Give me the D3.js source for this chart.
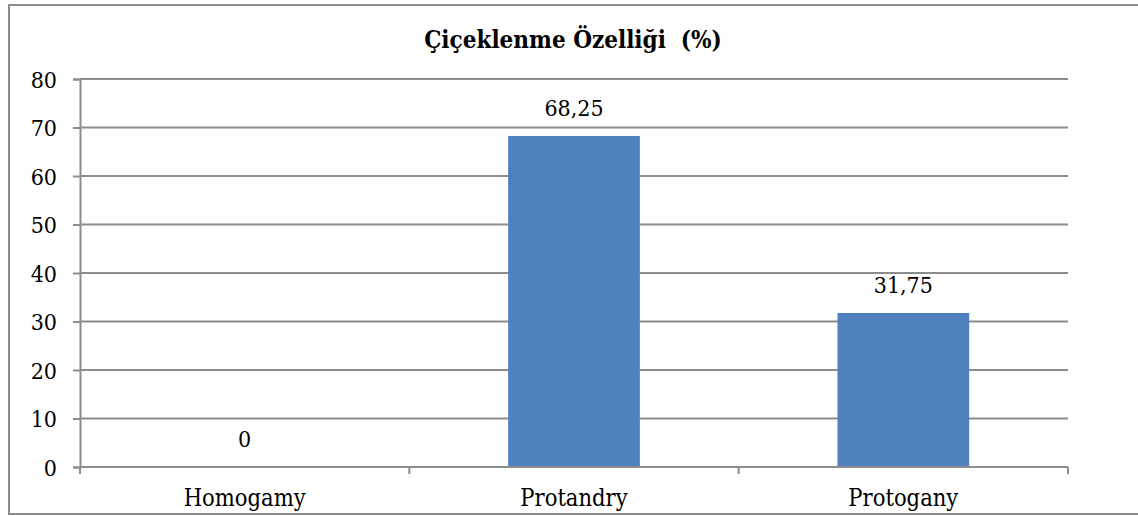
<!DOCTYPE html>
<html>
<head>
<meta charset="utf-8">
<script src="https://cdn.jsdelivr.net/npm/d3@7"></script>
<style>
  body { margin: 0; background: #fff; }
  svg text { fill: #000; }
</style>
</head>
<body>
<script>
const categories = ["Homogamy", "Protandry", "Protogany"];
const values = [0, 68.25, 31.75];
const valueLabels = ["0", "68,25", "31,75"];
const yTicks = [0, 10, 20, 30, 40, 50, 60, 70, 80];
const title = "Çiçeklenme Özelliği  (%)";

const w = 1138;
const h = 516;
const padLeft = 80, padRight = 1068, padTop = 79, padBottom = 467;
const font = "'DejaVu Serif Condensed', 'DejaVu Serif', serif";

const svg = d3.select("body")
      .append("svg")
      .attr("width", w)
      .attr("height", h);

// frame, open on the right like the reference
svg.append("path")
      .attr("d", "M1138,5 H9 V514 H1138")
      .attr("fill", "none")
      .attr("stroke", "#8c8c8c")
      .attr("stroke-width", 2);

const xScale = d3.scaleBand()
      .domain(categories)
      .range([padLeft, padRight])
      .paddingInner(0.6)
      .paddingOuter(0.3);

const yScale = d3.scaleLinear()
      .domain([0, 80])
      .range([padBottom, padTop]);

// gridlines
svg.append("g")
      .selectAll("line")
      .data(yTicks.filter(d => d > 0))
      .enter()
      .append("line")
      .attr("x1", padLeft)
      .attr("x2", padRight)
      .attr("y1", d => yScale(d))
      .attr("y2", d => yScale(d))
      .attr("stroke", "#8c8c8c")
      .attr("stroke-width", 2);

const yAxis = d3.axisLeft(yScale)
      .tickValues(yTicks)
      .tickSize(7)
      .tickPadding(16);

const gy = svg.append("g")
      .attr("transform", "translate(" + padLeft + ",0)")
      .call(yAxis)
      .attr("font-family", font);
gy.select(".domain").attr("stroke", "#8c8c8c").attr("stroke-width", 2);
gy.selectAll(".tick line").attr("stroke", "#8c8c8c").attr("stroke-width", 2);
gy.selectAll(".tick text")
      .attr("font-size", 23)
      .attr("dy", "0.36em");

// bars
svg.selectAll("rect.bar")
      .data(values)
      .enter()
      .append("rect")
      .attr("class", "bar")
      .attr("x", (d, i) => xScale(categories[i]))
      .attr("y", d => yScale(d))
      .attr("width", xScale.bandwidth())
      .attr("height", d => yScale(0) - yScale(d))
      .attr("fill", "#4f81bd");

// x axis, ticks sit between the categories
const boundaries = [0, 1, 2, 3].map(i => padLeft + i * (padRight - padLeft) / 3);
const gx = svg.append("g");
gx.append("line")
      .attr("x1", padLeft).attr("x2", padRight)
      .attr("y1", padBottom).attr("y2", padBottom)
      .attr("stroke", "#8c8c8c")
      .attr("stroke-width", 2);
gx.selectAll("line.tk")
      .data(boundaries)
      .enter()
      .append("line")
      .attr("class", "tk")
      .attr("x1", d => d).attr("x2", d => d)
      .attr("y1", padBottom).attr("y2", padBottom + 7)
      .attr("stroke", "#8c8c8c")
      .attr("stroke-width", 2);
gx.selectAll("text")
      .data(categories)
      .enter()
      .append("text")
      .attr("x", d => xScale(d) + xScale.bandwidth() / 2)
      .attr("y", 506)
      .attr("text-anchor", "middle")
      .attr("font-family", font)
      .attr("font-size", 23.5)
      .text(d => d);

// value labels
svg.selectAll("text.val")
      .data(values)
      .enter()
      .append("text")
      .attr("class", "val")
      .attr("x", (d, i) => xScale(categories[i]) + xScale.bandwidth() / 2)
      .attr("y", d => yScale(d) - 20)
      .attr("text-anchor", "middle")
      .attr("font-family", font)
      .attr("font-size", 23)
      .text((d, i) => valueLabels[i]);

svg.append("text")
      .attr("x", 573)
      .attr("y", 48)
      .attr("text-anchor", "middle")
      .attr("font-family", font)
      .attr("font-size", 24)
      .attr("font-weight", "bold")
      .style("white-space", "pre")
      .text(title);
</script>
</body>
</html>
